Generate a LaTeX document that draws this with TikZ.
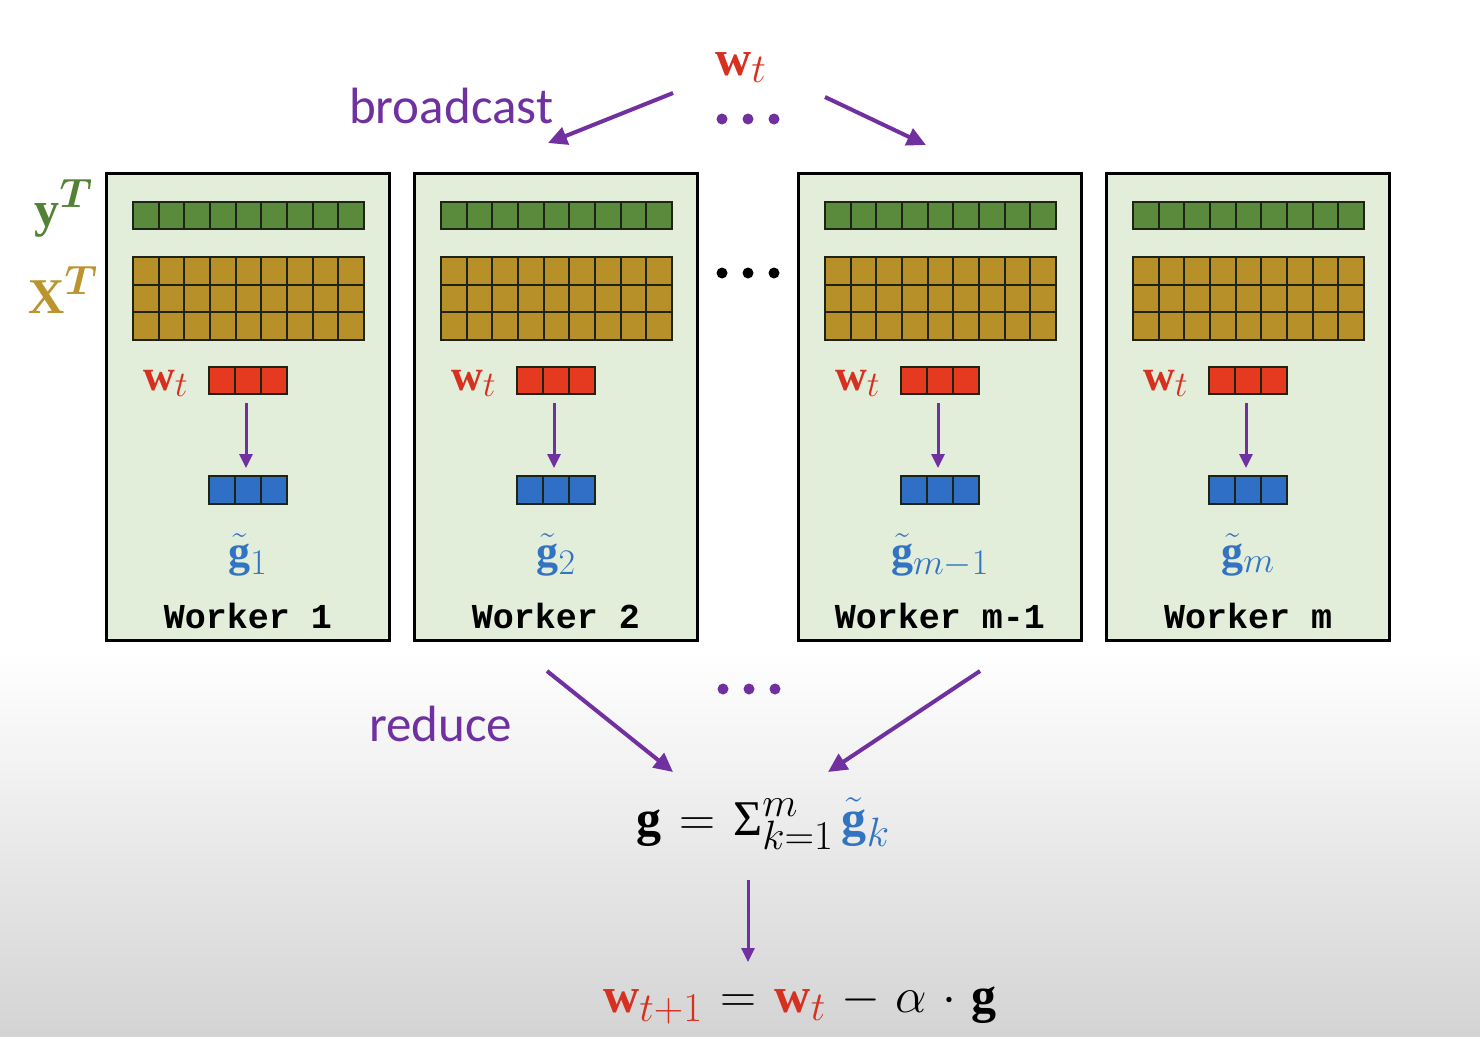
\documentclass[tikz,border=0pt]{standalone}
\usepackage{fix-cm}
\usepackage{amsmath}
\usepackage{fontspec}
\setmathrm{Liberation Serif}
\newfontfamily\cfont{Carlito}
\newfontfamily\wfont{Liberation Mono}
\newfontfamily\lsfont{Liberation Serif}
\DeclareMathSizes{50}{50}{41}{32}
\DeclareMathSizes{44}{44}{36}{28}
\medmuskip=5.5mu\relax
\thickmuskip=6.5mu\relax
\usetikzlibrary{arrows.meta}
\definecolor{purp}{HTML}{7030A0}
\definecolor{wred}{HTML}{D63020}
\definecolor{gblue}{HTML}{3274C2}
\definecolor{ygreen}{HTML}{548235}
\definecolor{xgold}{HTML}{BC942E}
\definecolor{cgreen}{HTML}{5A8A3C}
\definecolor{cgold}{HTML}{B8902A}
\definecolor{cred}{HTML}{E63A20}
\definecolor{cblue}{HTML}{2F6FC6}
\definecolor{boxfill}{HTML}{E2EDDA}
\definecolor{gline}{HTML}{1E2414}
\newcommand\wkbox[4]{%
  \node[wbox] (box#1) at ({#2+141.5},406.5) {};
  \node[bar, fill=cgreen, minimum width=231, minimum height=27] (y#1) at ({#2+142.5},215.5) {};
  \foreach \i in {1,...,8} \draw[gl] ({#2+27+round(\i*231/9)},202) -- ++(0,27);
  \node[bar, fill=cgold, minimum width=231, minimum height=83] (X#1) at ({#2+142.5},298.5) {};
  \foreach \i in {1,...,8} \draw[gl] ({#2+27+round(\i*231/9)},257) -- ++(0,83);
  \foreach \j in {1,2} \draw[gl] ({#2+27},{257+round(\j*83/3)}) -- ++(231,0);
  \node[bar, fill=cred, minimum width=78, minimum height=27] (w#1) at ({#2+142},380.5) {};
  \node[bar, fill=cblue, minimum width=78, minimum height=28] (g#1) at ({#2+142},490) {};
  \foreach \i in {1,2} {\draw[gl] ({#2+103+\i*26},367) -- ++(0,27);
                        \draw[gl] ({#2+103+\i*26},476) -- ++(0,28);}
  \draw[inarr] (w#1.south) ++(-2,8) coordinate (ia#1) -- ++(0,65) coordinate (ib#1);
  \node[mlab, anchor=base west, text=wred] (wl#1) at ({#2+37},390) {$\mathbf{w}_t$};
  \node[mlab, anchor=base, text=gblue] (gl#1) at ({#2+142},566) {$\tilde{\mathbf{g}}_{#4}$};
  \node[wlab, anchor=base] (wk#1) at ({#2+142},628) {#3};
}
\begin{document}
\begin{tikzpicture}[x=1pt,y=-1pt,
  wbox/.style={draw=black, line width=3pt, fill=boxfill, minimum width=283, minimum height=467, inner sep=0},
  bar/.style={draw=gline, line width=2pt, inner sep=0},
  gl/.style={draw=gline, line width=2pt},
  inarr/.style={draw=purp, line width=3pt, -{Triangle[length=14pt,width=13pt]}},
  bigarr/.style={draw=purp, line width=4pt, -{Triangle[length=19pt,width=18pt]}},
  mlab/.style={inner sep=0, font=\fontsize{44}{50}\selectfont},
  blab/.style={inner sep=0, font=\fontsize{50}{56}\selectfont},
  wlab/.style={inner sep=0, font=\wfont\bfseries\fontsize{35}{40}\selectfont},
  clab/.style={inner sep=0, text=purp, font=\cfont\fontsize{51}{56}\selectfont},
  dot/.style={circle, inner sep=0, minimum size=11pt, fill=purp},
]
\useasboundingbox (0,0) rectangle (1480,1036);
\fill[white] (0,0) rectangle (1480,650);
\shade[top color=white, bottom color=black!17] (0,650) rectangle (1480,1036);

\wkbox{a}{106}{Worker 1}{1}
\wkbox{b}{414}{Worker 2}{2}
\wkbox{c}{798}{Worker m-1}{m-1}
\wkbox{d}{1106}{Worker m}{m}

\node[blab, anchor=base east, text=ygreen] (ylab) at (93,226) {$\mathbf{y}^{\boldsymbol{T}}$};
\node[blab, anchor=base east, text=xgold] (xlab) at (98,313) {$\mathbf{X}^{\boldsymbol{T}}$};

% top
\node[blab, anchor=base west, text=wred] (wtop) at (715,75) {$\mathbf{w}_t$};
\node[clab, anchor=base west] (bc) at (349,123) {broadcast};
\node[dot] (t1) at (722,119) {};
\node[dot] (t2) at (748,119) {};
\node[dot] (t3) at (774,119) {};
\coordinate (bl1) at (673,93);
\coordinate (bl2) at (548,143);
\coordinate (br1) at (825,97);
\coordinate (br2) at (926,145);
\draw[bigarr] (bl1) -- (bl2);
\draw[bigarr] (br1) -- (br2);

% middle dots
\node[dot, fill=black] (m1) at (722,273) {};
\node[dot, fill=black] (m2) at (748,273) {};
\node[dot, fill=black] (m3) at (774,273) {};

% reduce
\node[clab, anchor=base west] (rd) at (369,741) {reduce};
\node[dot] (r1) at (723,689) {};
\node[dot] (r2) at (749,689) {};
\node[dot] (r3) at (775,689) {};
\coordinate (rl1) at (547,671);
\coordinate (rl2) at (673,772);
\coordinate (rr1) at (980,671);
\coordinate (rr2) at (828,772);
\draw[bigarr] (rl1) -- (rl2);
\draw[bigarr] (rr1) -- (rr2);

% sum
\node[blab, anchor=base west] (gsum) at (636,835) {$\mathbf{g} = \mathop{\text{\lsfont Σ}}\nolimits_{k=1}^{m} {\color{gblue}\tilde{\mathbf{g}}_k}$};
\coordinate (s1) at (748,880);
\coordinate (s2) at (748,962);
\draw[inarr] (s1) -- (s2);
\node[blab, anchor=base west] (upd) at (603,1012) {$\color{wred}\mathbf{w}_{t+1} \color{black}= \color{wred}\mathbf{w}_t \color{black}- \alpha\cdot\mathbf{g}$};
\end{tikzpicture}
\end{document}
